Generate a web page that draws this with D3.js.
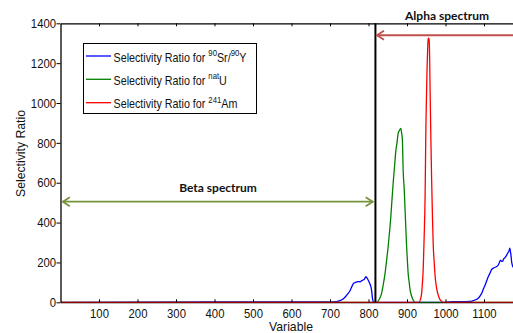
<!DOCTYPE html>
<html>
<head>
<meta charset="utf-8">
<script src="https://cdn.jsdelivr.net/npm/d3@7"></script>
<style>
  html, body { margin: 0; padding: 0; background: #fff; }
  svg { display: block; }
  text { font-family: Arial, "Liberation Sans", sans-serif; fill: #111; }
  .bold { font-family: Lato, "Open Sans", sans-serif; font-weight: bold; }
</style>
</head>
<body>
<svg id="chart" width="513" height="333"></svg>
<script>
// Selectivity ratio profiles over the spectrum channels
const blueX = [1, 660, 700, 717, 725, 734, 740, 745, 752, 757, 761, 766, 773, 778, 782, 786, 790, 793, 796, 799, 803, 806, 808, 810, 812, 815,
               1000, 1020, 1040, 1064, 1072, 1080, 1085, 1090, 1094, 1098, 1103, 1107, 1111, 1116, 1120, 1125, 1129, 1133, 1137, 1140,
               1143, 1146, 1149, 1151, 1153, 1156, 1159, 1161, 1163, 1165, 1167, 1168, 1170, 1172, 1176];
const blueY = [0, 2, 2, 3, 8, 17, 28, 40, 58, 80, 95, 100, 104, 103, 108, 112, 118, 129, 122, 112, 95, 80, 60, 25, 5, 0,
               0, 3, 3, 4, 8, 14, 20, 32, 45, 65, 87, 108, 128, 148, 165, 172, 176, 180, 187, 200,
               212, 205, 207, 218, 221, 228, 237, 245, 251, 258, 272, 262, 237, 200, 175];

const greenX = [1, 821, 828, 834, 838, 843, 847, 851, 855, 858, 861, 864, 868, 871, 874, 877, 880, 884, 886, 888, 890, 893, 895,
                897, 899, 901, 903, 906, 908, 911, 914, 918, 921, 1176];
const greenY = [0, 0, 15, 45, 85, 145, 210, 279, 360, 430, 515, 597, 690, 760, 800, 848, 862, 873, 850, 814, 664, 560, 463,
                370, 279, 210, 145, 95, 62, 38, 20, 5, 0, 0];

const redX = [1, 931, 935, 938, 940, 942, 944, 946, 947, 948, 949, 950, 952, 954, 955, 957, 958, 959, 960, 962, 964, 966, 968,
              971, 974, 977, 981, 984, 988, 994, 1176];
const redY = [0, 0, 15, 45, 95, 162, 290, 430, 530, 700, 864, 980, 1165, 1290, 1325, 1322, 1300, 1200, 1060, 820, 614, 440, 296,
              190, 112, 70, 37, 20, 8, 0, 0];

const xTicks = [100, 200, 300, 400, 500, 600, 700, 800, 900, 1000, 1100];
const yTicks = [0, 200, 400, 600, 800, 1000, 1200, 1400];

const seriesColors = ["#0000ff", "#008000", "#ff0000"];

// Annotation positions in data units
const spectrumSplit = 818;
const betaArrow = { x0: 6, x1: 811, y: 505 };
const alphaArrow = { x0: 822, x1: 1200, y: 1340 };

const svg = d3.select("#chart");
const x = d3.scaleLinear().domain([0, 1200]).range([60.5, 522.5]);
const y = d3.scaleLinear().domain([0, 1400]).range([302.3, 23.3]);
const fmt = d3.format("d");
const SX = 0.87;

// Data curves
const line = d3.line().x(d => x(d[0])).y(d => y(d[1])).curve(d3.curveMonotoneX);
const series = [d3.zip(blueX, blueY), d3.zip(greenX, greenY), d3.zip(redX, redY)];
svg.append("clipPath").attr("id", "plotClip")
  .append("rect").attr("x", x(0)).attr("y", y(1400)).attr("width", x(1200) - x(0)).attr("height", y(0) - y(1400) + 1);
const gData = svg.append("g").attr("clip-path", "url(#plotClip)");
series.forEach((pts, i) => {
  gData.append("path")
    .datum(pts)
    .attr("fill", "none")
    .attr("stroke", seriesColors[i])
    .attr("stroke-width", 1.3)
    .attr("d", line);
});

// Axes frame
const gLeft = svg.append("g").attr("transform", `translate(${x.range()[0]},0)`)
  .call(d3.axisLeft(y).tickValues(yTicks).tickFormat(fmt).tickSizeInner(4).tickSizeOuter(0).tickPadding(0));
gLeft.selectAll("text")
  .attr("x", null)
  .attr("transform", `translate(-4.5,0) scale(${SX},1)`)
  .style("font-size", "13px");

const gBottom = svg.append("g").attr("transform", `translate(0,${y(0)})`)
  .call(d3.axisBottom(x).tickValues(xTicks).tickFormat(fmt).tickSizeInner(-3).tickSizeOuter(0).tickPadding(6));
gBottom.selectAll("text")
  .attr("x", 0)
  .attr("transform", `scale(${SX},1)`)
  .style("font-size", "13px");
gBottom.select(".domain").attr("stroke-opacity", 0.55);

const gTop = svg.append("g").attr("transform", `translate(0,${y(1400)})`)
  .call(d3.axisTop(x).tickValues(xTicks).tickSizeInner(-3).tickSizeOuter(0).tickFormat(""));

svg.selectAll(".domain").attr("stroke", "#000").attr("stroke-width", 1.3);
svg.selectAll(".tick line").attr("stroke", "#000");
svg.selectAll(".tick text").attr("fill", "#111");

// Axis titles
svg.append("text")
  .attr("transform", `translate(291,331) scale(0.94,1)`)
  .attr("text-anchor", "middle")
  .style("font-size", "13px")
  .text("Variable");

svg.append("text")
  .attr("transform", `translate(25,153.5) rotate(-90) scale(0.94,1)`)
  .attr("text-anchor", "middle")
  .style("font-size", "13px")
  .text("Selectivity Ratio");

// Beta / alpha boundary
svg.append("line")
  .attr("x1", x(spectrumSplit)).attr("x2", x(spectrumSplit))
  .attr("y1", y(1400)).attr("y2", y(0))
  .attr("stroke", "#000").attr("stroke-width", 2);

// Region arrows
function chevron(px, py, dir, color) {
  // open arrow head pointing left (dir=-1) or right (dir=1)
  svg.append("path")
    .attr("d", `M${px - dir * 7},${py - 4.5} L${px},${py} L${px - dir * 7},${py + 4.5}`)
    .attr("fill", "none").attr("stroke", color).attr("stroke-width", 1.8)
    .attr("stroke-linejoin", "miter");
}
const betaColor = "#77933c";
svg.append("line")
  .attr("x1", x(betaArrow.x0)).attr("x2", x(betaArrow.x1))
  .attr("y1", y(betaArrow.y)).attr("y2", y(betaArrow.y))
  .attr("stroke", betaColor).attr("stroke-width", 1.8);
chevron(x(betaArrow.x0), y(betaArrow.y), -1, betaColor);
chevron(x(betaArrow.x1), y(betaArrow.y), 1, betaColor);

const alphaColor = "#c0504d";
svg.append("line")
  .attr("x1", x(alphaArrow.x0)).attr("x2", x(alphaArrow.x1))
  .attr("y1", y(alphaArrow.y)).attr("y2", y(alphaArrow.y))
  .attr("stroke", alphaColor).attr("stroke-width", 1.8);
chevron(x(alphaArrow.x0), y(alphaArrow.y), -1, alphaColor);

svg.append("text").attr("class", "bold")
  .attr("x", 218).attr("y", 192).attr("text-anchor", "middle")
  .style("font-size", "12px").text("Beta spectrum");
svg.append("text").attr("class", "bold")
  .attr("x", 447).attr("y", 20).attr("text-anchor", "middle")
  .style("font-size", "12px").text("Alpha spectrum");

// Legend
const legend = svg.append("g");
legend.append("rect")
  .attr("x", 83.5).attr("y", 43.5).attr("width", 173).attr("height", 70)
  .attr("fill", "#fff").attr("stroke", "#000").attr("stroke-width", 1);
const rowsY = [56, 79.3, 102.7];
const labels = [
  [["Selectivity Ratio for ", 0], ["90", 1], ["Sr/", 0], ["90", 1], ["Y", 0]],
  [["Selectivity Ratio for ", 0], ["nat", 1], ["U", 0]],
  [["Selectivity Ratio for ", 0], ["241", 1], ["Am", 0]]
];
rowsY.forEach((ry, i) => {
  legend.append("line")
    .attr("x1", 86).attr("x2", 111).attr("y1", ry).attr("y2", ry)
    .attr("stroke", seriesColors[i]).attr("stroke-width", 1.3);
  const t = legend.append("text")
    .attr("transform", `translate(113.5,${ry + 5.5}) scale(0.86,1)`)
    .style("font-size", "12.5px");
  let raised = false;
  labels[i].forEach(([s, sup]) => {
    const ts = t.append("tspan").text(s);
    if (sup && !raised) { ts.attr("dy", -5.5).style("font-size", "9px"); raised = true; }
    else if (!sup && raised) { ts.attr("dy", 5.5); raised = false; }
    else if (sup) { ts.style("font-size", "9px"); }
  });
});
</script>
</body>
</html>
